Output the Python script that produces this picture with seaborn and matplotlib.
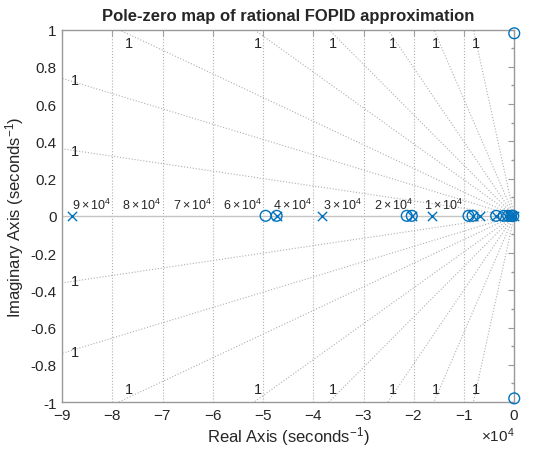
import numpy as np
import matplotlib
matplotlib.use("Agg")
import matplotlib.pyplot as plt
import seaborn as sns

# pole / zero locations (real parts in seconds^-1)
pole_re = [-8.8e4, -4.73e4, -3.82e4, -2.04e4, -1.64e4, -0.83e4, -0.69e4,
           -0.36e4, -0.17e4, -0.09e4, -0.04e4, -0.01e4]
pole_im = [0.0] * len(pole_re)
zero_re = [-4.95e4, -4.73e4, -2.14e4, -2.04e4, -0.91e4, -0.83e4, -0.36e4,
           -0.21e4, -0.12e4, -0.06e4, -0.02e4, 0.0, 0.0]
zero_im = [0.0] * 11 + [0.98, -0.98]

# damping-ratio rays: imaginary value reached at Re = -1e4
ray_slopes = [0.040, 0.082, 0.127, 0.193, 0.271, 0.397, 0.625, 1.23]
# natural frequency circles (look like vertical lines at this aspect)
wn_lines = [-8e4, -7e4, -6e4, -5e4, -4e4, -3e4, -2e4, -1e4]
wn_label_x = [-8.8e4, -7.8e4, -6.8e4, -5.8e4, -4.8e4, -3.8e4, -2.8e4, -1.8e4]
wn_label_txt = ['9', '8', '7', '6', '4', '3', '2', '1']
# positions of the "1" damping labels
zeta_side_y = [0.73, 0.35]
zeta_top_x = [-7.68e4, -5.1e4, -3.6e4, -2.41e4, -1.56e4, -0.76e4]

blue = '#0072BD'
grid_c = '#b0b0b0'
frame_c = '#999999'
text_c = '#262626'

sns.set_theme(style='white')
plt.rcParams['font.family'] = ['Liberation Sans', 'DejaVu Sans']
plt.rcParams['axes.unicode_minus'] = False
plt.rcParams['mathtext.fontset'] = 'custom'
plt.rcParams['mathtext.rm'] = 'Liberation Sans'
plt.rcParams['mathtext.it'] = 'Liberation Sans'

fig = plt.figure(figsize=(5.5, 4.56), dpi=100)
ax = fig.add_axes([0.113, 0.116, 0.822, 0.817])

# grid: rays and frequency lines
for k in ray_slopes:
    for sgn in (1, -1):
        ax.plot([0, -9.5e4], [0, sgn * k * 9.5], ls=':', lw=0.8, color=grid_c, zorder=1)
for x in wn_lines:
    ax.axvline(x, ls=':', lw=0.8, color=grid_c, zorder=1)
ax.axhline(0, color='#c4c4c4', lw=1.0, zorder=1)

for y in zeta_side_y:
    for sgn in (1, -1):
        ax.text(-8.75e4, sgn * y, '1', fontsize=10.5, ha='center', va='center', color=text_c)
for x in zeta_top_x:
    for sgn in (1, -1):
        ax.text(x, sgn * 0.93, '1', fontsize=10.5, ha='center', va='center', color=text_c)
for x, t in zip(wn_label_x, wn_label_txt):
    ax.text(x, 0.018, r'$' + t + r'\times10^{4}$', fontsize=9, ha='left', va='bottom',
            color=text_c)

sns.scatterplot(x=pole_re, y=pole_im, marker='x', s=45, color=blue, linewidth=1.0,
                ax=ax, zorder=3, clip_on=False)
sns.scatterplot(x=zero_re, y=zero_im, marker='o', s=60, facecolors='none', edgecolor=blue,
                linewidth=1.0, ax=ax, zorder=3, clip_on=False)

ax.set_xlim(-9e4, 0)
ax.set_ylim(-1, 1)
ax.set_xticks(np.arange(-9e4, 1, 1e4))
ax.set_yticks(np.round(np.arange(-1, 1.01, 0.2), 1))
ax.set_yticklabels(['-1', '-0.8', '-0.6', '-0.4', '-0.2', '0', '0.2', '0.4', '0.6', '0.8', '1'])
ax.ticklabel_format(axis='x', style='sci', scilimits=(0, 0), useMathText=True)
ax.xaxis.get_offset_text().set_fontsize(11)
ax.xaxis.get_offset_text().set_color(text_c)

ax.tick_params(direction='in', length=4, width=0.8, color=frame_c, labelsize=11,
               labelcolor=text_c, top=True, right=True, pad=4)
ax.yaxis.set_minor_locator(matplotlib.ticker.MultipleLocator(0.1))
ax.tick_params(which='minor', direction='in', length=2, color=frame_c, right=True)
for s in ax.spines.values():
    s.set_color(frame_c)
    s.set_linewidth(1.0)

ax.set_xlabel(r'Real Axis (seconds$^{-1}$)', fontsize=12, color=text_c, labelpad=2)
ax.set_ylabel(r'Imaginary Axis (seconds$^{-1}$)', fontsize=12, color=text_c, labelpad=3)
ax.set_title('Pole-zero map of rational FOPID approximation', fontsize=12,
             fontweight='bold', color=text_c, pad=7)

fig.savefig('out.png', dpi=100)
